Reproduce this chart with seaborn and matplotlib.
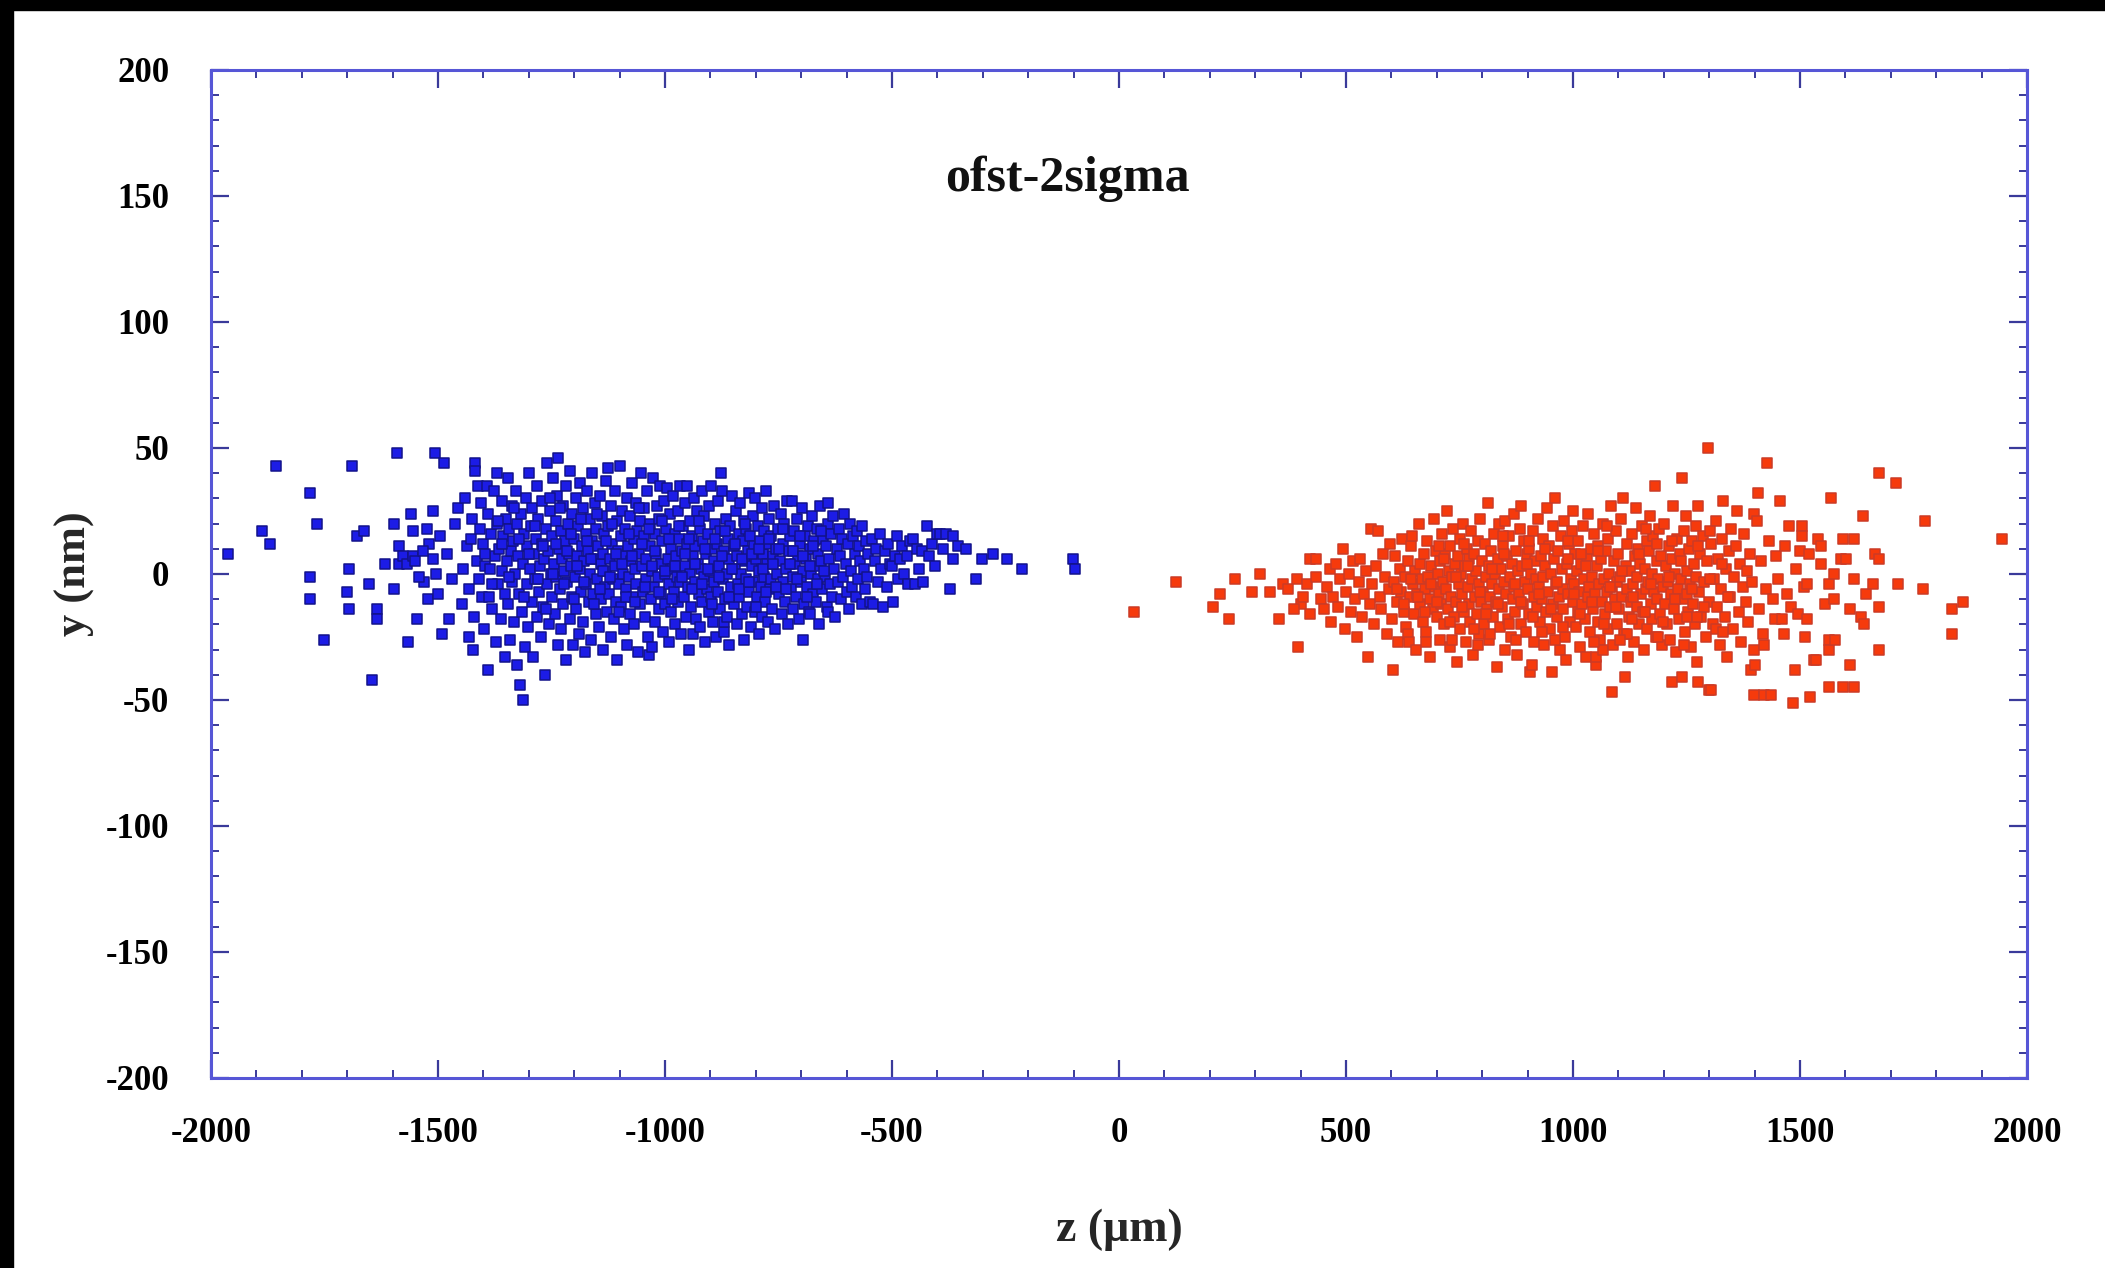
import matplotlib
matplotlib.use("Agg")
import matplotlib.pyplot as plt
from matplotlib.ticker import MultipleLocator
from matplotlib.patches import Rectangle
import pandas as pd
import seaborn as sns

# ---------------- data (z in um, y in nm) ----------------
blue_tail_left = [(-1962,8),(-1888,17),(-1870,12),(-1857,43),(-1782,32),(-1766,20),(-1782,-1),(-1782,-10),
    (-1751,-26),(-1690,43),(-1695,2),(-1701,-7),(-1695,-14),(-1679,15),(-1662,17),(-1646,-42),(-1653,-4),
    (-1635,-14),(-1635,-18),(-1617,4),(-1598,20),(-1598,-6),(-1591,48),(-1587,4),(-1587,11),(-1576,7),
    (-1569,4),(-1565,-27),(-1559,24),(-1554,17),(-1554,7),(-1551,5),(-1547,-18),(-1523,-10),(-1510,25),
    (-1506,48),(-1492,-24),(-1486,44),(-1475,-18),(-1530,-3),(-1520,12),(-1512,6),(-1505,0),(-1500,-8),
    (-1495,15),(-1480,8),(-1470,-2),(-1462,20),(-1455,26),(-1532,9),(-1541,-1),(-1525,18)]
blue_core_1 = [(-1448,-12),(-1445,2),(-1440,30),(-1437,11),(-1432,-6),(-1431,-25),(-1428,14),(-1425,22),
    (-1422,-30),(-1420,-17),(-1418,44),(-1418,41),(-1415,5),(-1412,35),(-1410,-2),(-1408,18),(-1405,28),
    (-1403,-9),(-1400,12),(-1398,-22),(-1396,3),(-1392,35),(-1390,24),(-1389,-38),(-1388,-9),(-1385,2),
    (-1383,16),(-1380,-14),(-1377,33),(-1375,7),(-1373,-27),(-1371,40),(-1370,20),(-1368,-4),(-1365,10),
    (-1362,-18),(-1360,29),(-1358,1),(-1356,15),(-1353,-33),(-1352,-8),(-1350,22)]
blue_core_2 = [(-1348,5),(-1346,-12),(-1345,38),(-1343,18),(-1341,-26),(-1340,9),(-1338,-3),(-1336,27),
    (-1334,13),(-1332,-19),(-1330,0),(-1328,33),(-1327,-36),(-1325,20),(-1323,7),(-1321,-8),(-1320,-44),
    (-1318,24),(-1316,-15),(-1313,-50),(-1312,4),(-1310,16),(-1308,-29),(-1306,30),(-1305,-4),(-1303,11),
    (-1301,-21),(-1300,40),(-1298,2),(-1296,19),(-1294,-11),(-1292,26),(-1290,-33),(-1288,8),(-1286,-2),
    (-1285,14),(-1283,-17),(-1281,35),(-1279,22),(-1277,-7),(-1276,3),(-1274,-25),(-1272,12),(-1270,29),
    (-1268,-13),(-1266,6),(-1264,-40),(-1263,18),(-1261,-4),(-1259,44),(-1257,9),(-1255,-20),(-1253,25),(-1251,0)]
blue_core_3 = [(-1249,15),(-1248,-9),(-1246,38),(-1245,4),(-1243,-16),(-1241,21),(-1240,-1),(-1238,31),
    (-1236,-28),(-1235,46),(-1234,10),(-1232,-6),(-1230,17),(-1229,-22),(-1227,6),(-1225,27),(-1224,-12),
    (-1222,1),(-1220,13),(-1218,-34),(-1217,35),(-1215,-3),(-1213,20),(-1212,8),(-1210,-18),(-1209,41),
    (-1207,3),(-1205,-9),(-1204,24),(-1202,-28),(-1200,14),(-1199,-1),(-1197,30),(-1195,-14),(-1193,7),
    (-1192,19),(-1190,-24),(-1188,2),(-1187,36),(-1185,-7),(-1183,11),(-1181,26),(-1180,-19),(-1178,5),
    (-1176,-31),(-1175,16),(-1173,-4),(-1171,33),(-1170,9),(-1168,-11),(-1166,22),(-1165,0),(-1163,-26),
    (-1161,13),(-1160,40),(-1158,-8),(-1156,6),(-1155,28),(-1153,-16),(-1151,18)]
blue_core_4 = [(-1149,-2),(-1147,11),(-1146,-21),(-1144,31),(-1142,4),(-1141,-10),(-1139,23),(-1137,-30),
    (-1136,8),(-1134,16),(-1132,-5),(-1131,37),(-1129,1),(-1128,-15),(-1126,42),(-1125,19),(-1123,-8),
    (-1121,6),(-1120,-25),(-1118,27),(-1116,12),(-1115,-2),(-1113,-18),(-1111,33),(-1110,3),(-1108,-11),
    (-1106,21),(-1105,-34),(-1103,9),(-1101,-4),(-1099,43),(-1098,15),(-1096,-13),(-1094,25),(-1093,0),
    (-1091,-22),(-1089,7),(-1088,18),(-1086,-6),(-1084,30),(-1083,-28),(-1081,11),(-1079,-1),(-1078,23),
    (-1076,-16),(-1074,5),(-1073,36),(-1071,-9),(-1069,14),(-1068,-20),(-1066,2),(-1064,28),(-1063,-4),
    (-1061,17),(-1059,-31),(-1058,8),(-1056,21),(-1054,-12),(-1053,40),(-1051,3)]
blue_core_5 = [(-1049,-7),(-1047,15),(-1046,26),(-1044,-17),(-1042,6),(-1041,-2),(-1039,33),(-1037,-25),
    (-1036,-32),(-1034,11),(-1032,20),(-1031,-10),(-1029,-29),(-1028,1),(-1026,38),(-1024,-5),(-1023,16),
    (-1021,-19),(-1019,8),(-1018,27),(-1016,-1),(-1014,-14),(-1013,22),(-1011,35),(-1009,4),(-1008,-8),
    (-1006,13),(-1004,-23),(-1003,29),(-1001,0),(-999,-12),(-997,18),(-996,34),(-994,6),(-992,-4),
    (-991,-27),(-989,24),(-987,10),(-986,-15),(-984,2),(-982,31),(-981,-7),(-979,16),(-977,-20),(-976,7),
    (-974,-1),(-972,25),(-971,-11),(-969,14),(-967,35),(-966,-3),(-964,-24),(-962,9),(-961,19),(-959,-9),
    (-957,3),(-956,28),(-954,-17),(-952,35),(-951,12)]
blue_core_6 = [(-949,-5),(-948,-30),(-946,21),(-944,0),(-943,-13),(-941,15),(-939,7),(-938,-24),(-936,30),
    (-934,-3),(-933,11),(-931,-18),(-929,25),(-928,4),(-926,-8),(-924,18),(-923,-21),(-921,2),(-919,33),
    (-918,-11),(-916,13),(-914,-1),(-913,23),(-911,-27),(-909,8),(-908,-6),(-906,16),(-904,-15),(-903,27),
    (-901,1),(-899,-9),(-898,35),(-896,10),(-894,-19),(-893,5),(-891,-3),(-889,20),(-888,-25),(-886,12),
    (-884,29),(-883,-7),(-881,3),(-879,-14),(-878,17),(-876,40),(-875,33),(-873,-2),(-871,-23),(-871,-19),
    (-869,9),(-868,-10),(-866,22),(-864,0),(-863,-17),(-861,14),(-859,6),(-858,-28),(-856,19),(-854,-5),(-852,31)]
blue_core_7 = [(-849,11),(-847,-12),(-846,2),(-844,25),(-842,-20),(-841,7),(-839,-4),(-837,16),(-836,-9),
    (-834,28),(-832,0),(-831,-16),(-829,13),(-827,21),(-826,-26),(-824,5),(-822,-2),(-821,18),(-819,-13),
    (-817,9),(-816,32),(-814,-7),(-812,15),(-811,-21),(-809,3),(-807,23),(-806,-3),(-804,11),(-802,-15),
    (-801,30),(-799,6),(-797,-9),(-796,19),(-794,-24),(-792,1),(-791,13),(-789,-5),(-787,26),(-786,-17),
    (-784,8),(-782,-1),(-781,17),(-779,-11),(-777,33),(-776,4),(-774,-19),(-772,12),(-771,22),(-769,-6),
    (-767,-2),(-766,15),(-764,-14),(-762,7),(-760,27),(-758,-22),(-756,10),(-754,0),(-752,18)]
blue_core_8 = [(-749,-8),(-747,5),(-745,24),(-743,-16),(-741,12),(-739,-3),(-737,20),(-735,-11),(-733,2),
    (-731,29),(-729,-20),(-727,9),(-725,15),(-723,-6),(-721,29),(-719,-1),(-717,-14),(-715,17),(-713,4),
    (-711,-9),(-709,22),(-707,7),(-705,-18),(-703,12),(-701,-3),(-699,26),(-697,1),(-695,-26),(-693,-12),
    (-691,15),(-689,6),(-687,-5),(-685,19),(-683,-15),(-681,10),(-680,-16),(-678,0),(-676,23),(-674,-8),
    (-672,13),(-670,3),(-668,-11),(-666,18),(-664,-2),(-662,8),(-660,-20),(-658,27),(-656,5),(-654,-6),(-652,14)]
blue_core_9 = [(-648,-1),(-646,11),(-644,-13),(-642,20),(-640,-15),(-640,28),(-638,6),(-636,-4),(-634,16),
    (-632,-9),(-629,23),(-627,2),(-625,-17),(-622,10),(-620,-3),(-617,18),(-615,7),(-612,-10),(-610,14),
    (-607,-1),(-605,24),(-602,4),(-600,-7),(-597,12),(-595,-14),(-592,20),(-590,1),(-588,-5),(-585,15),
    (-582,8),(-580,-9),(-578,17),(-575,-2),(-572,11),(-570,5),(-567,-12),(-565,19),(-562,2),(-560,-6),
    (-557,13),(-555,-1),(-552,8)]
blue_core_dense = [(-1396,8),(-1381,-4),(-1367,21),(-1359,12),(-1344,-1),(-1333,26),(-1322,14),(-1311,-9),
    (-1299,8),(-1287,19),(-1279,-2),(-1269,11),(-1262,-14),(-1254,30),(-1247,0),(-1239,12),(-1231,26),
    (-1223,-4),(-1216,9),(-1208,16),(-1201,-10),(-1194,3),(-1186,22),(-1179,-3),(-1172,13),(-1164,6),
    (-1157,-12),(-1150,24),(-1143,-6),(-1136,1),(-1130,13),(-1122,-1),(-1117,20),(-1109,8),(-1102,-15),
    (-1095,4),(-1087,-9),(-1080,16),(-1073,7),(-1065,-11),(-1058,26),(-1050,12),(-1043,-5),(-1036,18),
    (-1029,3),(-1021,9),(-1014,-7),(-1007,21),(-999,1),(-992,14),(-985,-10),(-978,3),(-970,19),(-963,-1),
    (-955,8),(-948,14),(-941,-6),(-934,4),(-926,21),(-919,-4),(-912,10),(-905,2),(-897,-12),(-890,14),
    (-882,-1),(-875,7),(-867,17),(-860,-9),(-853,2),(-845,12),(-838,-6),(-830,6),(-823,20),(-815,-3),
    (-808,8),(-800,-13),(-793,10),(-785,2),(-778,-7),(-770,14),(-763,4),(-755,-5),(-748,10),(-740,18),
    (-733,-6),(-725,4),(-718,9),(-710,-2),(-703,15),(-695,7),(-688,-9),(-680,3),(-673,11),(-665,-4),
    (-657,17),(-650,1)]
blue_tail_right = [(-548,-11),(-545,14),(-541,-12),(-538,5),(-535,10),(-531,-3),(-527,16),(-524,2),(-519,-13),
    (-516,9),(-512,-5),(-508,12),(-505,4),(-501,3),(-497,-11),(-494,7),(-490,15),(-486,-2),(-482,6),
    (-478,11),(-474,0),(-468,7),(-464,-4),(-460,13),(-453,14),(-449,-4),(-446,10),(-440,2),(-435,9),
    (-431,-3),(-424,19),(-418,7),(-412,12),(-405,3),(-400,16),(-394,16),(-388,10),(-380,16),(-373,-6),
    (-366,6),(-365,15),(-355,11),(-337,10),(-314,-2),(-302,6),(-277,8),(-247,6),(-214,2),(-101,6),(-97,2)]

red_tail_left = [(32,-15),(126,-3),(206,-13),(222,-8),(242,-18),(256,-2),(292,-7),(311,0),(333,-7),(353,-18),
    (362,-4),(373,-6),(391,-2),(395,-29),(413,-4),(421,6),(435,6),(435,-1),(400,-12),(385,-14),(420,-16),
    (444,-10),(405,-9)]
red_core_1 = [(452,-14),(458,-5),(465,2),(468,-19),(472,-9),(478,4),(483,-13),(487,-2),(494,10),(497,-22),
    (501,-7),(506,0),(510,-15),(515,5),(519,-10),(524,-25),(528,-3),(531,6),(535,-17),(539,-8),(543,1),
    (549,-33),(552,-12),(556,18),(558,-4),(562,-20),(566,3),(571,17),(574,-9),(578,-14),(582,8),(586,-1),
    (590,-24),(594,-6),(598,12)]
red_core_2 = [(601,-18),(604,-38),(606,-3),(609,7),(612,-11),(615,-27),(618,2),(621,-7),(624,14),(627,-15),
    (630,-1),(633,-21),(636,5),(637,-24),(638,-27),(640,-9),(643,11),(645,15),(647,-4),(650,-16),(652,1),
    (655,-30),(657,-8),(660,20),(662,-12),(664,4),(667,-2),(669,-19),(672,8),(674,-6),(677,-23),(679,13),
    (681,-1),(684,-10),(686,-33),(688,3),(691,-14),(693,22),(695,-5),(698,9)]
red_core_3 = [(700,-17),(702,0),(704,-8),(706,-26),(708,5),(710,-12),(712,16),(714,-3),(716,-20),(718,8),
    (720,-6),(722,25),(724,-14),(726,1),(728,-29),(730,11),(732,-9),(734,-1),(736,18),(738,-17),(740,4),
    (742,-11),(744,-35),(746,7),(748,-4),(750,14),(752,-22),(754,0),(756,-8),(758,20),(760,-15),(762,3),
    (764,-27),(766,10),(768,-5),(770,-12),(772,6),(774,-19),(776,17),(778,-2),(780,-32),(782,8),(784,-9),
    (786,1),(788,-16),(790,13),(792,-24),(794,-4),(796,22),(798,-11)]
red_core_4 = [(800,5),(802,-7),(804,-20),(806,12),(808,-1),(810,-14),(812,28),(814,3),(816,-26),(818,-9),
    (820,9),(822,-4),(824,-17),(826,16),(828,0),(830,-11),(832,-37),(834,6),(836,-6),(838,20),(840,-21),
    (842,2),(844,-13),(846,11),(848,-3),(850,-30),(851,21),(853,-8),(855,7),(857,-18),(859,15),(861,-1),
    (863,-25),(865,4),(867,-10),(869,24),(871,-5),(873,-15),(875,9),(877,-32),(879,1),(881,-8),(883,18),
    (885,-20),(886,27),(888,3),(890,-12),(892,13),(894,-3),(896,-23),(898,8)]
red_core_5 = [(900,-6),(902,-16),(904,10),(906,-39),(908,0),(910,-36),(911,17),(913,-9),(915,-27),(917,5),
    (919,-2),(921,-13),(923,22),(925,-5),(927,-19),(929,7),(931,-10),(933,14),(935,-1),(937,-28),(939,3),
    (941,-15),(943,26),(945,-7),(947,11),(949,-22),(951,0),(953,-39),(955,19),(957,-12),(959,6),(961,30),
    (963,-4),(965,-17),(967,9),(969,-9),(971,-30),(973,15),(975,2),(977,-14),(979,-6),(981,21),(983,-25),
    (985,-34),(987,4),(989,-8),(991,12),(993,-19),(995,-2),(997,17),(999,25)]
red_core_6 = [(1000,-11),(1002,-4),(1004,8),(1006,-21),(1008,1),(1010,-15),(1012,13),(1014,-7),(1016,-29),
    (1018,4),(1020,-12),(1022,19),(1024,-2),(1026,-18),(1028,-33),(1030,7),(1032,-9),(1034,24),(1036,-5),
    (1038,-23),(1040,10),(1042,-1),(1044,-14),(1046,16),(1048,-8),(1050,-36),(1051,-33),(1052,3),(1054,-19),
    (1056,11),(1058,-4),(1060,-26),(1062,6),(1064,-11),(1066,20),(1067,-30),(1068,-2),(1070,-16),(1072,9),
    (1074,-7),(1076,-22),(1078,14),(1080,0),(1082,-13),(1084,27),(1086,-5),(1087,-47),(1088,-28),(1090,5),
    (1092,-10),(1094,17),(1096,-3),(1098,-20)]
red_core_7 = [(1100,8),(1102,-14),(1104,-1),(1106,22),(1108,-9),(1110,30),(1112,-24),(1114,-41),(1116,3),
    (1118,-6),(1120,12),(1122,-33),(1124,-17),(1126,1),(1128,-11),(1130,16),(1132,-4),(1134,-27),(1136,7),
    (1138,26),(1140,-13),(1142,-1),(1144,10),(1146,-20),(1148,4),(1150,-8),(1152,19),(1154,-15),(1156,-30),
    (1158,2),(1160,-6),(1162,13),(1164,-22),(1166,-3),(1168,9),(1169,23),(1171,-12),(1173,0),(1175,-18),
    (1177,15),(1179,-7),(1180,35),(1182,-25),(1184,5),(1186,-10),(1188,-2),(1190,18),(1192,-16),(1194,7),
    (1196,-28),(1198,-5)]
red_core_8 = [(1201,20),(1203,-12),(1205,3),(1207,-20),(1209,-3),(1211,11),(1213,-26),(1215,-8),(1217,-43),
    (1219,6),(1221,27),(1223,-14),(1225,0),(1227,-31),(1229,14),(1231,-6),(1233,-18),(1235,8),(1237,-2),
    (1240,38),(1240,-41),(1242,-10),(1244,17),(1246,-23),(1248,23),(1250,1),(1252,-8),(1254,-15),(1256,10),
    (1258,-4),(1260,-29),(1262,13),(1264,-12),(1266,4),(1268,-20),(1270,19),(1272,-1),(1274,-35),(1276,27),
    (1276,-43),(1278,-7),(1280,8),(1283,-17),(1286,15),(1289,-3),(1292,-25),(1295,5),(1297,50),(1299,-46),(1299,-11)]
red_core_9 = [(1303,-46),(1305,12),(1308,-20),(1311,-2),(1314,21),(1317,-13),(1320,6),(1323,-28),(1326,-6),
    (1329,14),(1331,29),(1334,-17),(1337,2),(1340,-33),(1343,9),(1346,-9),(1349,18),(1352,-22),(1355,-1),
    (1358,11),(1362,25),(1365,-15),(1368,4),(1371,-27),(1374,-5),(1377,16),(1380,-11),(1383,1),(1386,-19),
    (1389,8),(1392,-38),(1395,-3),(1398,24),(1398,-48),(1398,-30)]
red_core_10 = [(1401,-36),(1405,21),(1407,32),(1410,-14),(1414,5),(1418,-24),(1421,-48),(1421,-28),(1425,-6),
    (1428,44),(1432,13),(1437,-48),(1440,-10),(1444,-18),(1448,7),(1452,-2),(1457,29),(1460,-18),(1464,-24),
    (1468,11),(1472,-8),(1476,19),(1480,-13),(1484,-51),(1488,-38),(1492,2),(1496,-16),(1499,9)]
red_core_dense = [(612,-6),(628,-12),(644,-2),(659,-9),(673,-15),(687,-4),(701,-11),(715,6),(729,-19),(742,-1),
    (755,-13),(769,3),(782,-22),(795,-7),(808,-16),(821,2),(834,-12),(847,8),(860,-20),(873,-4),(886,-11),
    (899,4),(912,-17),(925,-8),(938,10),(951,-14),(964,-3),(977,-21),(990,6),(1003,-8),(1016,-16),(1029,3),
    (1042,-11),(1055,9),(1068,-20),(1081,-5),(1094,-13),(1107,1),(1120,-24),(1133,-9),(1146,8),(1159,-15),
    (1172,-4),(1185,12),(1198,-19),(1211,-1),(1224,-10),(1237,5),(1250,-17),(1263,-6),(1276,11),(1289,-13),
    (1302,-2),(1315,-22),(1328,4),(1341,-9),(676,-27),(704,11),(733,-26),(761,12),(790,-28),(818,-24),
    (846,15),(875,-26),(903,13),(932,-23),(960,-26),(989,13),(1017,8),(1046,-27),(1074,19),(1103,-26),
    (1131,-18),(1160,18),(1188,-25),(1217,13),(1245,-28),(1274,-17),(1302,17),(1331,-23)]
red_tail_right = [(1504,19),(1504,15),(1508,-5),(1512,-25),(1516,-4),(1516,-18),(1520,8),(1523,-49),(1531,-34),
    (1535,-34),(1539,14),(1547,11),(1547,4),(1555,-12),(1563,-45),(1563,-4),(1563,-26),(1563,-30),(1569,30),
    (1575,0),(1575,-10),(1578,-26),(1590,6),(1594,-45),(1594,14),(1602,6),(1610,-14),(1610,-36),(1618,-45),
    (1618,14),(1618,-2),(1634,-17),(1638,23),(1641,-20),(1645,-8),(1661,-4),(1665,8),(1673,6),(1673,40),
    (1673,-13),(1673,-30),(1711,36),(1716,-4),(1775,21),(1771,-6),(1834,-14),(1834,-24),(1858,-11),(1944,14)]

x_ticks = [-2000, -1500, -1000, -500, 0, 500, 1000, 1500, 2000]
y_ticks = [-200, -150, -100, -50, 0, 50, 100, 150, 200]
title_text = "ofst-2sigma"
x_label = "z (\u03bcm)"
y_label = "y (nm)"

blue_pts = (blue_tail_left + blue_core_1 + blue_core_2 + blue_core_3 + blue_core_4 + blue_core_5 +
            blue_core_6 + blue_core_7 + blue_core_8 + blue_core_9 + blue_core_dense + blue_tail_right)
red_pts = (red_tail_left + red_core_1 + red_core_2 + red_core_3 + red_core_4 + red_core_5 + red_core_6 +
           red_core_7 + red_core_8 + red_core_9 + red_core_10 + red_core_dense + red_tail_right)
blue_df = pd.DataFrame(blue_pts, columns=["z", "y"])
red_df = pd.DataFrame(red_pts, columns=["z", "y"])

# ---------------- figure ----------------
sns.set_theme(style="white")
plt.rcParams["font.family"] = ["Liberation Serif", "DejaVu Serif"]

W, H = 2105, 1268
fig = plt.figure(figsize=(W / 100, H / 100), dpi=100)
fig.patch.set_facecolor("white")
ax = fig.add_axes([211 / W, 1 - 1078 / H, (2027 - 211) / W, (1078 - 70) / H])
ax.set_facecolor("white")

sns.scatterplot(data=blue_df, x="z", y="y", ax=ax, marker="s", s=50,
                color="#1c1ce6", edgecolor="#12128a", linewidth=1.1, legend=False, zorder=3)
sns.scatterplot(data=red_df, x="z", y="y", ax=ax, marker="s", s=50,
                color="#f63a0c", edgecolor="#cc3a26", linewidth=1.1, legend=False, zorder=3)

ax.set_xlim(-2000, 2000)
ax.set_ylim(-200, 200)
ax.set_xticks(x_ticks)
ax.set_yticks(y_ticks)
ax.set_xticklabels([str(v) for v in x_ticks])
ax.set_yticklabels([str(v) for v in y_ticks])
ax.xaxis.set_minor_locator(MultipleLocator(100))
ax.yaxis.set_minor_locator(MultipleLocator(10))

spine_col = "#5656d6"
for sp in ax.spines.values():
    sp.set_color(spine_col)
    sp.set_linewidth(2.2)
    sp.set_visible(True)

ax.tick_params(which="both", direction="in", top=True, right=True, bottom=True, left=True,
               color="#3a3a9a", labelcolor="black")
ax.tick_params(which="major", length=13, width=1.6, labelsize=25)
ax.tick_params(which="minor", length=6, width=1.4)
ax.tick_params(axis="x", which="major", pad=28)
ax.tick_params(axis="y", which="major", pad=30)
for lab in ax.get_xticklabels() + ax.get_yticklabels():
    lab.set_fontweight("bold")

ax.set_xlabel(x_label, fontsize=33, fontweight="bold", labelpad=42)
ax.set_ylabel(y_label, fontsize=32, fontweight="bold", labelpad=8)
ax.text(-114, 157, title_text, ha="center", va="center", fontsize=36, fontweight="bold", color="#111111")
ax.grid(False)

# black frame strips from the screenshot edges
fig.add_artist(Rectangle((0, 1 - 10 / H), 1, 10 / H, transform=fig.transFigure, color="black", zorder=10))
fig.add_artist(Rectangle((0, 0), 13 / W, 1, transform=fig.transFigure, color="black", zorder=10))

fig.savefig("out.png", dpi=100, facecolor="white")
